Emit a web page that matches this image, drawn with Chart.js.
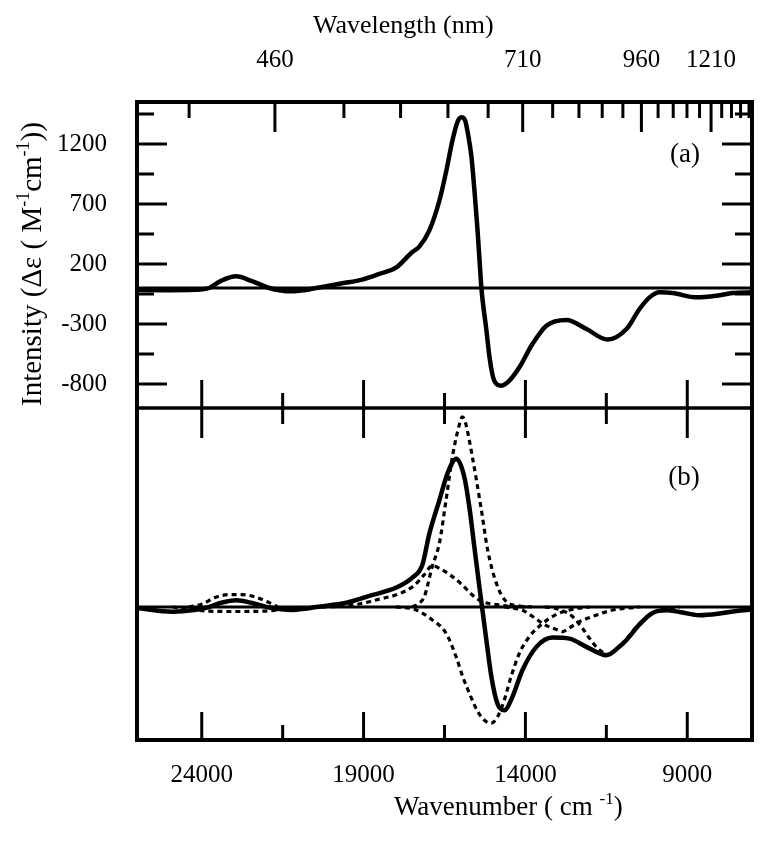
<!DOCTYPE html>
<html>
<head>
<meta charset="utf-8">
<script src="https://cdn.jsdelivr.net/npm/chart.js@4.4.0/dist/chart.umd.min.js"></script>
<style>
  html, body { margin: 0; padding: 0; background: #fff; }
  #wrap { width: 772px; height: 842px; }
</style>
</head>
<body>
<div id="wrap"><canvas id="cd" width="772" height="842"></canvas></div>
<script>
// CD spectrum (a) and its Gaussian decomposition (b), shared wavenumber axis.
// Wavenumber runs high -> low, left to right. Top axis shows wavelength (nm).

const SERIF = '"Liberation Serif", "Times New Roman", Times, serif';

// axis ranges / ticks
const WN_MIN = 7000, WN_MAX = 26000;
const wavenumberLabels = [24000, 19000, 14000, 9000];
const wavenumberMinor = [21500, 16500, 11500];
const wavelengthLabels = [460, 710, 960, 1210];
const intensityLabels = [1200, 700, 200, -300, -800];
const intensityMinor = [1450, 950, 450, -50, -550];

// (a) measured spectrum
const waveA = [26000, 25000, 24235, 23771, 23400, 22936, 22472, 21916, 21606, 21204, 20833, 20462,
  19658, 19040, 18514, 17989, 17494, 17278, 16968, 16659, 16443, 16257, 16103, 15979, 15855, 15793,
  15670, 15577, 15484, 15422, 15360, 15206, 15113, 15020, 14959, 14742, 14495, 14186, 13784, 13351,
  12732, 12114, 11465, 10877, 10475, 10166, 9857, 9455, 8713, 8094, 7600, 7000];
const intensityA = [-15, -18, -15, 0, 60, 97, 60, 0, -18, -28, -18, 0,
  39, 70, 117, 172, 300, 345, 480, 727, 978, 1228, 1381, 1422, 1390, 1311,
  1100, 820, 500, 250, 0, -350, -570, -720, -775, -814, -772, -661, -467, -314,
  -267, -342, -430, -342, -175, -78, -36, -42, -78, -64, -42, -36];

// (b) fitted spectrum
const waveB = [26000, 24915, 24235, 23771, 23400, 22936, 22472, 21916, 21606, 21204, 20833, 20462,
  19534, 18824, 17989, 17494, 17185, 16968, 16659, 16412, 16133, 15886, 15732, 15577, 15422, 15340,
  15206, 15051, 14866, 14649, 14402, 14093, 13660, 13165, 12640, 12114, 11500, 11094, 10877, 10475,
  10073, 9640, 9238, 8620, 8001, 7476, 7000];
const fitB = [-8, -39, -25, 0, 35, 56, 35, -5, -18, -25, -15, 0,
  35, 92, 162, 245, 350, 612, 889, 1111, 1237, 1083, 833, 500, 167, 0,
  -278, -583, -805, -861, -750, -528, -333, -255, -264, -333, -403, -330, -275, -145,
  -50, -28, -42, -69, -55, -33, -22];

// (b) components (dashed)
const band1Wave = [17494, 17278, 17123, 16876, 16659, 16452, 16257, 16041, 15948, 15855, 15639, 15360, 15166, 14897, 14587, 14186, 13800];
const band1Val  = [0, 33, 86, 340, 531, 892, 1252, 1520, 1586, 1540, 1252, 808, 475, 197, 44, 8, 0];
const band2Wave = [18000, 17432, 16876, 16452, 16143, 15938, 15732, 15474, 15216, 15061, 14856, 14649, 14443, 14186, 13876, 13567, 13103, 12640, 12021];
const band2Val  = [0, -20, -108, -219, -414, -581, -719, -873, -956, -969, -914, -775, -581, -386, -247, -160, -70, -25, 0];
const band3Wave = [20300, 19751, 19133, 18514, 17896, 17432, 17123, 16876, 16659, 16257, 15948, 15639, 15330, 14897, 14495, 14000];
const band3Val  = [0, 5, 25, 65, 110, 180, 270, 345, 322, 253, 183, 100, 44, 20, 5, 0];
const band4Wave = [14649, 14093, 13681, 13434, 12980, 12856, 12640, 12330, 11928, 11495, 11310, 10475];
const band4Val  = [0, -28, -97, -144, -194, -206, -175, -122, -80, -39, -25, 0];
const band5Wave = [13400, 13103, 12856, 12547, 12238, 12021, 11774, 11526, 11403, 11094, 10877, 10475, 10073, 9640, 9238];
const band5Val  = [0, -10, -31, -80, -178, -261, -344, -390, -395, -330, -265, -140, -50, -15, 0];
const band6Wave = [24400, 23987, 23564, 23152, 22741, 22327, 21916, 21650];
const band6Val  = [0, 25, 81, 103, 103, 81, 36, 0];
const band7Wave = [24900, 24235, 23771, 22936, 22100, 21500, 21000];
const band7Val  = [0, -25, -35, -38, -35, -20, 0];

const pts = (w, v) => w.map((x, i) => ({ x, y: v[i] }));

function solid(data, yAxisID) {
  return { data, yAxisID, xAxisID: 'x', borderColor: '#000', borderWidth: 4.5,
    pointRadius: 0, cubicInterpolationMode: 'monotone', fill: false };
}
function dashed(data) {
  return { data, yAxisID: 'yB', xAxisID: 'x', borderColor: '#000', borderWidth: 3.2,
    borderDash: [5, 4], pointRadius: 0, cubicInterpolationMode: 'monotone', fill: false,
    borderCapStyle: 'butt' };
}

const datasets = [
  dashed(pts(band7Wave, band7Val)),
  dashed(pts(band6Wave, band6Val)),
  dashed(pts(band5Wave, band5Val)),
  dashed(pts(band4Wave, band4Val)),
  dashed(pts(band3Wave, band3Val)),
  dashed(pts(band2Wave, band2Val)),
  dashed(pts(band1Wave, band1Val)),
  solid(pts(waveB, fitB), 'yB'),
  solid(pts(waveA, intensityA), 'yA'),
];

// text with superscript runs
function drawRuns(ctx, runs, x, y, size) {
  for (const r of runs) {
    const s = r.sup ? Math.round(size * 0.62) : size;
    ctx.font = s + 'px ' + SERIF;
    ctx.fillText(r.t, x, r.sup ? y - size * 0.4 : y);
    x += ctx.measureText(r.t).width;
  }
}

function tick(ctx, x0, y0, x1, y1) {
  ctx.beginPath(); ctx.moveTo(x0, y0); ctx.lineTo(x1, y1); ctx.stroke();
}

const frameAndTicks = {
  id: 'frameAndTicks',
  beforeDatasetsDraw(chart) {
    const { ctx, chartArea: a, scales } = chart;
    ctx.save();
    ctx.strokeStyle = '#000';
    ctx.lineWidth = 3;
    for (const id of ['yA', 'yB']) {
      const y = scales[id].getPixelForValue(0);
      tick(ctx, a.left, y, a.right, y);
    }
    ctx.restore();
  },
  afterDraw(chart) {
    const { ctx, chartArea: a, scales } = chart;
    const xs = scales.x, yA = scales.yA;
    const mid = yA.bottom;
    ctx.save();
    ctx.strokeStyle = '#000';
    ctx.lineWidth = 3;
    ctx.lineCap = 'butt';

    // intensity ticks, both sides of panel (a)
    for (const v of intensityLabels.concat(intensityMinor)) {
      const len = intensityLabels.includes(v) ? 30 : 17;
      const y = yA.getPixelForValue(v);
      tick(ctx, a.left, y, a.left + len, y);
      tick(ctx, a.right, y, a.right - len, y);
    }
    // wavenumber ticks: divider (both ways) and bottom
    for (const v of wavenumberLabels.concat(wavenumberMinor)) {
      const major = wavenumberLabels.includes(v);
      const x = xs.getPixelForValue(v);
      tick(ctx, x, mid, x, mid - (major ? 28 : 15));
      tick(ctx, x, mid, x, mid + (major ? 30 : 16));
      tick(ctx, x, a.bottom, x, a.bottom - (major ? 28 : 15));
    }
    // wavelength ticks along the top, every 50 nm
    for (let nm = 410; nm <= 1410; nm += 50) {
      const major = wavelengthLabels.includes(nm);
      const x = xs.getPixelForValue(1e7 / nm);
      if (x < a.left || x > a.right) continue;
      tick(ctx, x, a.top, x, a.top + (major ? 30 : 16));
    }

    // frame + divider
    ctx.lineWidth = 4;
    ctx.strokeRect(a.left, a.top, a.right - a.left, a.bottom - a.top);
    ctx.lineWidth = 3.5;
    tick(ctx, a.left, mid, a.right, mid);

    // titles and panel letters
    ctx.fillStyle = '#000';
    ctx.textBaseline = 'alphabetic';
    ctx.textAlign = 'left';
    drawRuns(ctx, [{ t: 'Wavelength (nm)' }], 313, 33, 26);
    drawRuns(ctx, [{ t: 'Wavenumber ( cm ' }, { t: '-1', sup: true }, { t: ')' }], 394, 815, 27);

    ctx.save();
    ctx.translate(41, 406);
    ctx.rotate(-Math.PI / 2);
    drawRuns(ctx, [{ t: 'Intensity (\u0394\u03b5 ( M' }, { t: '-1', sup: true }, { t: 'cm' },
      { t: '-1', sup: true }, { t: '))' }], 0, 0, 29);
    ctx.restore();

    ctx.textAlign = 'center';
    ctx.textBaseline = 'middle';
    ctx.font = '27px ' + SERIF;
    ctx.fillText('(a)', 685, 155);
    ctx.fillText('(b)', 684, 478);
    ctx.restore();
  }
};

const tickFont = { family: SERIF, size: 25 };

new Chart(document.getElementById('cd'), {
  type: 'line',
  data: { datasets },
  options: {
    responsive: false,
    animation: false,
    devicePixelRatio: 1,
    layout: { padding: { top: 0, right: 20, bottom: 0, left: 0 } },
    plugins: { legend: { display: false }, tooltip: { enabled: false } },
    elements: { line: { borderCapStyle: 'round', borderJoinStyle: 'round' } },
    scales: {
      x: {
        type: 'linear', position: 'bottom', reverse: true, min: WN_MIN, max: WN_MAX,
        grid: { display: false, drawTicks: false }, border: { display: false },
        afterBuildTicks: s => { s.ticks = wavenumberLabels.map(v => ({ value: v })); },
        afterFit: s => { s.height = 102; },
        ticks: { color: '#000', font: tickFont, padding: 20, maxRotation: 0, autoSkip: false,
          callback: v => String(v) },
      },
      x2: {
        type: 'linear', position: 'top', reverse: true, min: WN_MIN, max: WN_MAX,
        grid: { display: false, drawTicks: false }, border: { display: false },
        afterBuildTicks: s => { s.ticks = wavelengthLabels.map(nm => ({ value: 1e7 / nm })); },
        afterFit: s => { s.height = 102; },
        ticks: { color: '#000', font: tickFont, padding: 27, maxRotation: 0, autoSkip: false,
          callback: v => String(Math.round(1e7 / v)) },
      },
      yB: {
        type: 'linear', position: 'left', stack: 'panels', stackWeight: 332,
        min: -1110, max: 1660,
        grid: { display: false, drawTicks: false }, border: { display: false },
        ticks: { display: false },
        afterFit: s => { s.width = 137; },
      },
      yA: {
        type: 'linear', position: 'left', stack: 'panels', stackWeight: 306,
        min: -1000, max: 1550,
        grid: { display: false, drawTicks: false }, border: { display: false },
        afterBuildTicks: s => { s.ticks = intensityLabels.map(v => ({ value: v })); },
        afterFit: s => { s.width = 137; },
        ticks: { color: '#000', font: tickFont, padding: 30, callback: v => String(v) },
      },
    },
  },
  plugins: [frameAndTicks],
});
</script>
</body>
</html>
